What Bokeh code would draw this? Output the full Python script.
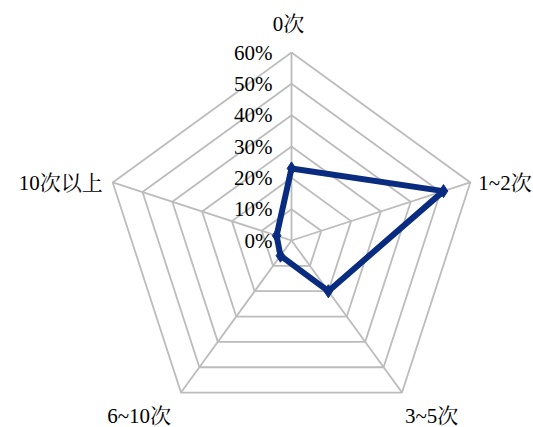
import numpy as np
from bokeh.plotting import figure
from bokeh.models import Range1d
from bokeh.core.properties import value
from bokeh.embed import file_html
from bokeh.resources import INLINE

categories = ["0次", "1~2次", "3~5次", "6~10次", "10次以上"]
values = [23, 51, 20, 6, 5]
ring_levels = [10, 20, 30, 40, 50, 60]
ring_labels = ["0%", "10%", "20%", "30%", "40%", "50%", "60%"]

W, H = 533, 427
CX, CY = 291, 240          # centre in screen px
RPX = 188                  # outer radius px
RMAX = 60.0
S = RPX / RMAX             # px per percent

p = figure(width=W, height=H, output_backend="svg", toolbar_location=None,
           x_range=Range1d(-CX / S, (W - CX) / S),
           y_range=Range1d(-(H - CY) / S, CY / S),
           min_border=0)
p.axis.visible = False
p.grid.visible = False
p.outline_line_color = None
p.background_fill_color = "white"
p.border_fill_color = "white"

n = len(categories)
ang = np.deg2rad(90 - 72 * np.arange(n))
ux, uy = np.cos(ang), np.sin(ang)

grid_col = "#bcbcbc"
for lv in ring_levels:
    xs = list(lv * ux) + [lv * ux[0]]
    ys = list(lv * uy) + [lv * uy[0]]
    p.line(xs, ys, line_color=grid_col, line_width=1.8)
for i in range(n):
    p.line([0, RMAX * ux[i]], [0, RMAX * uy[i]], line_color=grid_col, line_width=1.8)

font = value("'Liberation Serif', 'Times New Roman', 'Noto Serif CJK SC', 'Noto Sans CJK SC', serif")

# percent labels
lvls = [0] + ring_levels
p.text(x=[-19 / S] * len(lvls), y=lvls, text=ring_labels, text_font=font,
       text_font_size="21px", text_align="right", text_baseline="middle",
       text_color="black")

# category labels: offsets (px, screen y down) from vertex
offs = [(-3, -29, "center"), (8, 1, "left"), (3, 23, "left"), (-10, 23, "right"), (-10, 1, "right")]
for i, c in enumerate(categories):
    dx, dy, al = offs[i]
    p.text(x=[RMAX * ux[i] + dx / S], y=[RMAX * uy[i] - dy / S], text=[c],
           text_font=font, text_font_size="21px", text_align=al,
           text_baseline="middle", text_color="black")

# data
v = np.array(values, dtype=float)
dxs = list(v * ux) + [v[0] * ux[0]]
dys = list(v * uy) + [v[0] * uy[0]]
col = "#0a2c80"
p.line(dxs, dys, line_color=col, line_width=6, line_join="round")
p.scatter(list(v * ux), list(v * uy), marker="diamond", size=13, color=col)

open("out.html", "w").write(file_html(p, INLINE))
